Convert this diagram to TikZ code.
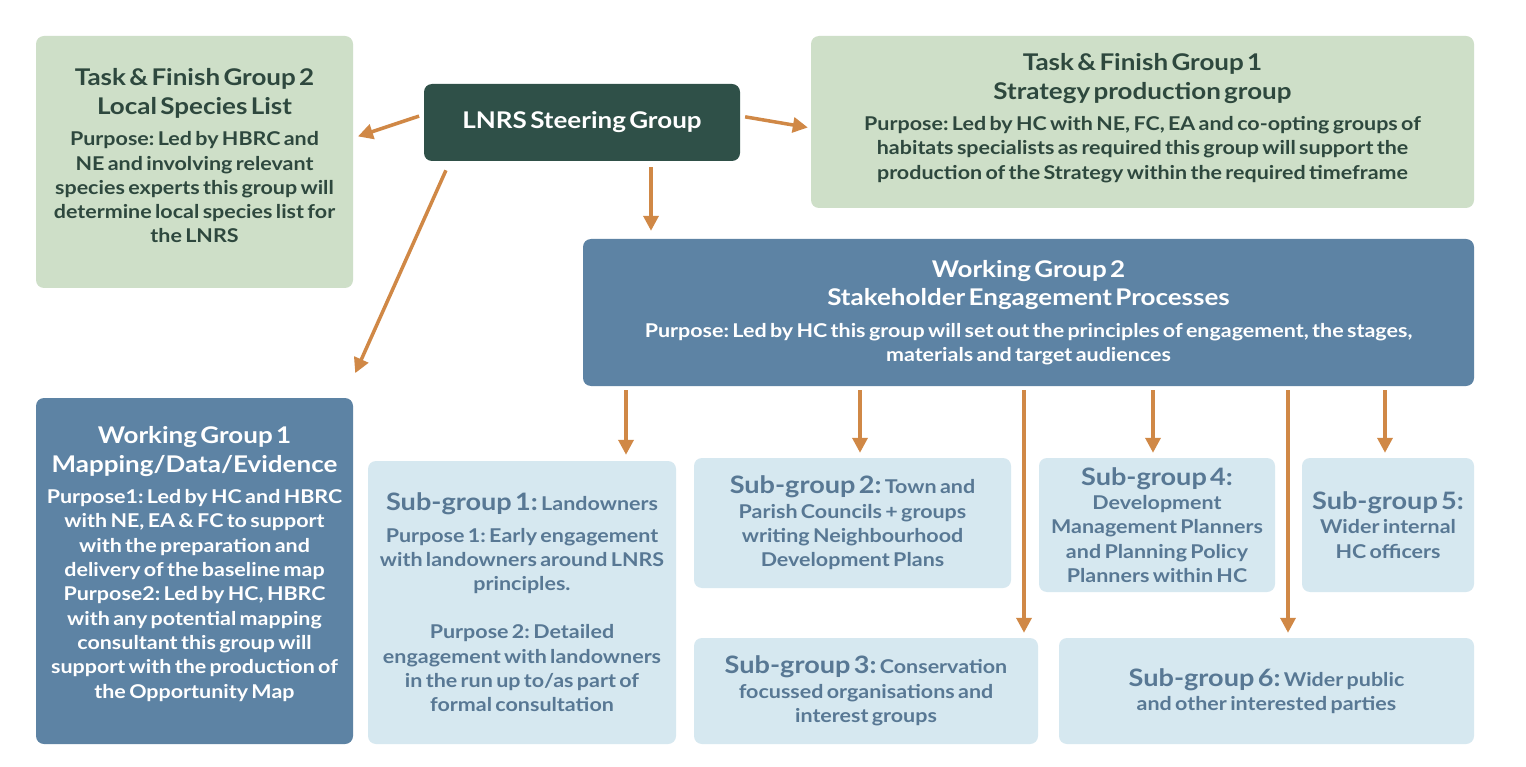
\documentclass[tikz,border=0pt]{standalone}
\usepackage{fontspec}
\setmainfont{Lato}[FakeStretch=1.13]
\usetikzlibrary{arrows.meta}
\definecolor{lgreen}{HTML}{CEDFC8}
\definecolor{gtext}{HTML}{2E483E}
\definecolor{dgreen}{HTML}{2F5048}
\definecolor{mblue}{HTML}{5D83A4}
\definecolor{lblue}{HTML}{D6E8F0}
\definecolor{btext}{HTML}{587894}
\definecolor{arrorange}{HTML}{D08846}
\newcommand\ttlf{\fontsize{23}{28.5}\selectfont\bfseries}
\newcommand\bdyf{\fontsize{19}{24.3}\selectfont\bfseries}
\newcommand\sghf{\fontsize{24}{26}\selectfont\bfseries}
\frenchspacing
\begin{document}
\begin{tikzpicture}[x=1pt,y=-1pt,
  boxbase/.style={rounded corners=8pt, inner sep=0pt, align=center, anchor=center},
  greenbox/.style={boxbase, fill=lgreen, text=gtext},
  darkbox/.style={boxbase, fill=dgreen, text=white},
  bluebox/.style={boxbase, fill=mblue, text=white},
  lightbox/.style={boxbase, fill=lblue, text=btext},
  arr/.style={draw=arrorange, line width=3.5pt, -{Triangle[width=15pt,length=15pt]}}]
\useasboundingbox[fill=white] (0,0) rectangle (1526,767);

\node[greenbox, minimum width=317pt, minimum height=252pt, text width=314pt] (tf2) at (194.5,162)
  {\ttlf Task \& Finish Group 2\\Local Species List\par\vspace{7pt}
   \bdyf Purpose: Led by HBRC and\\NE and involving relevant\\species experts this group will\\determine local species list for\\the LNRS\par\vspace{12pt}};

\node[darkbox, minimum width=316pt, minimum height=77pt, text width=310pt] (steer) at (582,122.5)
  {\ttlf LNRS Steering Group};

\node[greenbox, minimum width=663pt, minimum height=172pt, text width=650pt] (tf1) at (1142.5,122)
  {\ttlf Task \& Finish Group 1\\Strategy production group\par\vspace{7pt}
   \bdyf Purpose: Led by HC with NE, FC, EA and co-opting groups of\\habitats specialists as required this group will support the\\production of the Strategy within the required timeframe\par\vspace{8pt}};

\node[bluebox, minimum width=891pt, minimum height=147pt, text width=885pt] (wg2) at (1028.5,312.5)
  {\ttlf Working Group 2\\Stakeholder Engagement Processes\par\vspace{7pt}
   \bdyf Purpose: Led by HC this group will set out the principles of engagement, the stages,\\materials and target audiences\par};

\node[bluebox, minimum width=317pt, minimum height=346pt, text width=315pt] (wg1) at (194.5,571)
  {\ttlf Working Group 1\\Mapping/Data/Evidence\par\vspace{7pt}
   \bdyf Purpose1: Led by HC and HBRC\\with NE, EA \& FC to support\\with the preparation and\\delivery of the baseline map\\Purpose2: Led by HC, HBRC\\with any potential mapping\\consultant this group will\\support with the production of\\the Opportunity Map\par\vspace{14pt}};

\node[lightbox, minimum width=308pt, minimum height=283pt, text width=306pt] (sg1) at (522,602.5)
  {{\sghf Sub-group 1:} {\bdyf Landowners}\par\vspace{7pt}
   \bdyf Purpose 1: Early engagement\\with landowners around LNRS\\principles.\\[24pt]Purpose 2: Detailed\\engagement with landowners\\in the run up to/as part of\\formal consultation\par};

\node[lightbox, minimum width=317pt, minimum height=130pt, text width=314pt] (sg2) at (852.5,523)
  {\bdyf{\sghf Sub-group 2:} Town and\\Parish Councils + groups\\writing Neighbourhood\\Development Plans\par};

\node[lightbox, minimum width=344pt, minimum height=106pt, text width=340pt] (sg3) at (866,691)
  {\bdyf{\sghf Sub-group 3:} Conservation\\focussed organisations and\\interest groups\par};

\node[lightbox, minimum width=236pt, minimum height=134pt, text width=234pt] (sg4) at (1157,525)
  {\bdyf{\sghf Sub-group 4:}\\Development\\Management Planners\\and Planning Policy\\Planners within HC\par};

\node[lightbox, minimum width=172pt, minimum height=134pt, text width=170pt] (sg5) at (1388,525)
  {\bdyf{\sghf Sub-group 5:}\\Wider internal\\HC officers\par};

\node[lightbox, minimum width=415pt, minimum height=106pt, text width=405pt] (sg6) at (1266.5,691)
  {\bdyf{\sghf Sub-group 6:} Wider public\\and other interested parties\par};

% arrows from steering group
\draw[arr, shorten <=5pt, shorten >=5pt] ([yshift=8pt]steer.west) -- ([yshift=24pt]tf2.east);
\draw[arr, shorten <=5pt, shorten >=3pt] ([yshift=6.5pt]steer.east) -- ([yshift=-6pt]tf1.west);
\draw[arr, shorten <=6pt, shorten >=8pt] ([xshift=69pt]steer.south) -- ([xshift=-377.5pt]wg2.north);
\draw[arr, shorten <=10pt, shorten >=27pt] ([xshift=-132pt]steer.south) -- ([xshift=-9pt]wg1.north east);

% arrows from working group 2
\draw[arr, shorten <=4pt, shorten >=6pt] ([xshift=-402.5pt]wg2.south) -- ([xshift=-402.5pt]sg1.north -| wg2.south);
\draw[arr, shorten <=4pt, shorten >=5pt] ([xshift=-168.5pt]wg2.south) -- ([xshift=-168.5pt]sg2.north -| wg2.south);
\draw[arr, shorten <=4pt, shorten >=5pt] ([xshift=-4.5pt]wg2.south) -- ([xshift=-4.5pt]sg3.north -| wg2.south);
\draw[arr, shorten <=4pt, shorten >=5pt] ([xshift=124.5pt]wg2.south) -- ([xshift=124.5pt]sg4.north -| wg2.south);
\draw[arr, shorten <=4pt, shorten >=5pt] ([xshift=259.5pt]wg2.south) -- ([xshift=259.5pt]sg6.north -| wg2.south);
\draw[arr, shorten <=4pt, shorten >=5pt] ([xshift=356.5pt]wg2.south) -- ([xshift=356.5pt]sg5.north -| wg2.south);
\end{tikzpicture}
\end{document}
